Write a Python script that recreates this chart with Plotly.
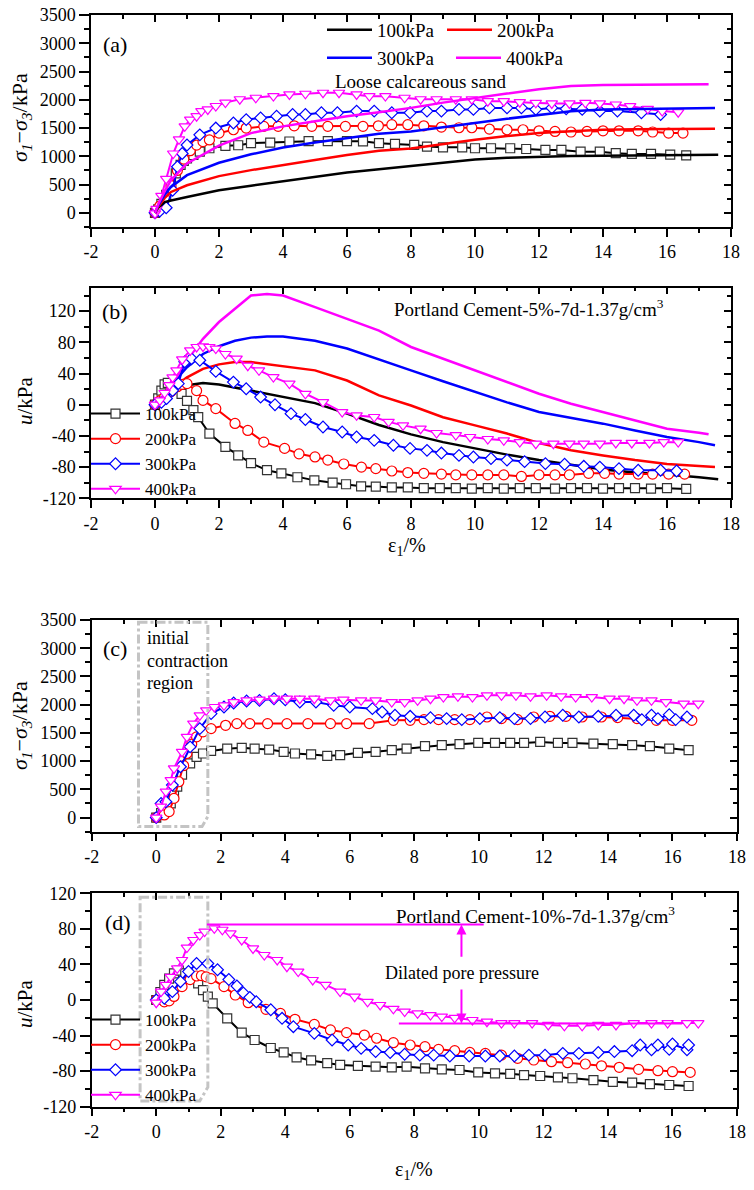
import plotly.graph_objects as go

W, H = 754, 1190
FONT = "Liberation Serif, Times New Roman, serif"

# ---------------- data ----------------
X_TICKS = [-2, 0, 2, 4, 6, 8, 10, 12, 14, 16, 18]
X_TICK_LABELS = ["-2", "0", "2", "4", "6", "8", "10", "12", "14", "16", "18"]
Q_TICKS = [0, 500, 1000, 1500, 2000, 2500, 3000, 3500]
Q_TICK_LABELS = ["0", "500", "1000", "1500", "2000", "2500", "3000", "3500"]
U_TICKS = [-120, -80, -40, 0, 40, 80, 120]
U_TICK_LABELS = ["-120", "-80", "-40", "0", "40", "80", "120"]

PRESSURES = ["100kPa", "200kPa", "300kPa", "400kPa"]

# (a) loose calcareous sand, deviator stress
A_LOOSE_100_X = [0, 0.1, 0.3, 0.5, 1, 2, 3, 4, 5, 6, 7, 8, 9, 10, 11, 12, 13, 14, 15, 16, 17, 17.6]
A_LOOSE_100_Y = [0, 90, 190, 220, 280, 400, 480, 560, 640, 714, 770, 830, 890, 946, 975, 994, 1005, 1012, 1015, 1018, 1025, 1030]
A_LOOSE_200_X = [0, 0.1, 0.3, 0.5, 1, 2, 3, 4, 5, 6, 7, 8, 9, 10, 11, 12, 13, 14, 15, 16, 17, 17.5]
A_LOOSE_200_Y = [0, 110, 260, 370, 488, 650, 756, 851, 934, 1024, 1100, 1140, 1220, 1292, 1360, 1411, 1445, 1470, 1478, 1482, 1486, 1488]
A_LOOSE_300_X = [0, 0.1, 0.3, 0.5, 1, 2, 3, 4, 5, 6, 7, 8, 9, 10, 11, 12, 13, 14, 15, 16, 17, 17.5]
A_LOOSE_300_Y = [0, 130, 320, 458, 667, 887, 1036, 1155, 1244, 1321, 1399, 1440, 1520, 1589, 1665, 1738, 1798, 1827, 1835, 1839, 1850, 1857]
A_LOOSE_400_X = [0, 0.1, 0.3, 0.5, 1, 2, 3, 4, 5, 6, 7, 8, 9, 10, 11, 12, 13, 14, 15, 16, 17, 17.3]
A_LOOSE_400_Y = [0, 150, 380, 577, 875, 1190, 1411, 1530, 1619, 1708, 1780, 1857, 1950, 2036, 2110, 2185, 2244, 2262, 2268, 2274, 2274, 2274]

# (a) Portland cement 5 %, deviator stress
A_C5_100_X = [0, 0.1, 0.2, 0.35, 0.5, 0.65, 0.8, 0.9, 1.0, 1.2, 1.4, 1.7, 2.2, 2.6, 3.0, 3.6, 4.2, 4.8, 5.4, 6.0, 6.5, 7.0, 7.5, 8.1, 8.5, 9.0, 9.6, 10.0, 10.5, 11.1, 11.6, 12.2, 12.7, 13.3, 13.9, 14.4, 14.9, 15.5, 16.1, 16.6]
A_C5_100_Y = [0, 60, 160, 320, 520, 700, 850, 920, 964, 1024, 1083, 1143, 1185, 1196, 1232, 1244, 1262, 1268, 1268, 1268, 1265, 1232, 1220, 1202, 1173, 1160, 1160, 1143, 1143, 1143, 1130, 1113, 1113, 1083, 1083, 1055, 1042, 1042, 1030, 1018]
A_C5_200_X = [0, 0.15, 0.3, 0.5, 0.7, 0.9, 1.1, 1.3, 1.5, 1.7, 2.0, 2.45, 2.85, 3.4, 3.85, 4.35, 4.9, 5.4, 5.95, 6.5, 6.98, 7.4, 7.9, 8.4, 8.95, 9.5, 9.9, 10.45, 11.0, 11.5, 12.0, 12.5, 13.0, 13.5, 14.0, 14.5, 15.1, 15.55, 16.05, 16.5]
A_C5_200_Y = [0, 120, 260, 480, 750, 950, 1100, 1200, 1260, 1290, 1410, 1470, 1500, 1530, 1530, 1540, 1530, 1530, 1530, 1530, 1540, 1560, 1560, 1540, 1518, 1506, 1506, 1482, 1470, 1470, 1452, 1440, 1430, 1440, 1452, 1452, 1452, 1430, 1411, 1411]
A_C5_300_X = [0, 0.15, 0.35, 0.55, 0.7, 0.85, 1.0, 1.4, 1.9, 2.45, 2.85, 3.3, 3.8, 4.3, 4.7, 5.2, 5.7, 6.3, 6.85, 7.4, 7.97, 8.5, 8.95, 9.5, 9.95, 10.45, 11.0, 11.45, 11.9, 12.4, 12.85, 13.35, 13.9, 14.45, 15.2, 15.8]
A_C5_300_Y = [0, 30, 90, 400, 815, 1050, 1200, 1380, 1500, 1590, 1650, 1680, 1710, 1740, 1740, 1770, 1770, 1800, 1800, 1770, 1770, 1800, 1800, 1830, 1830, 1857, 1857, 1857, 1830, 1857, 1840, 1830, 1800, 1800, 1770, 1740]
A_C5_400_X = [0, 0.05, 0.2, 0.35, 0.57, 0.75, 0.93, 1.1, 1.3, 1.45, 1.65, 1.9, 2.2, 2.65, 3.15, 3.7, 4.2, 4.7, 5.25, 5.75, 6.3, 6.7, 7.2, 7.8, 8.3, 8.8, 9.4, 9.9, 10.4, 10.9, 11.4, 11.9, 12.4, 12.95, 13.45, 13.9, 14.4, 14.85, 15.4, 15.85, 16.35]
A_C5_400_Y = [-10, 70, 300, 600, 1050, 1300, 1530, 1650, 1710, 1800, 1830, 1890, 1950, 2010, 2036, 2065, 2095, 2107, 2125, 2125, 2095, 2065, 2065, 2036, 2010, 2010, 2010, 2010, 1976, 1976, 1958, 1946, 1935, 1935, 1946, 1935, 1917, 1887, 1840, 1800, 1780]

# (b) loose calcareous sand, pore pressure
B_LOOSE_100_X = [0, 0.5, 1, 1.5, 2, 2.5, 3, 3.5, 4, 5, 6, 7, 8, 9, 10, 11, 12, 13, 14, 15, 16, 17, 17.6]
B_LOOSE_100_Y = [0, 20, 25, 27.8, 26, 22, 18.4, 14, 9.8, 2, -11.5, -26, -38, -48, -56, -64, -71, -77, -83, -87, -89.5, -93, -95.6]
B_LOOSE_200_X = [0, 0.5, 1, 1.5, 2, 2.5, 3, 3.5, 4, 5, 6, 7, 8, 9, 10, 11, 12, 13, 14, 15, 16, 17, 17.5]
B_LOOSE_200_Y = [0, 20, 35, 46, 51.7, 54.7, 54.7, 52, 49, 44, 31, 12, -1, -16, -26.5, -37, -49, -58.5, -65, -71, -76, -79, -80]
B_LOOSE_300_X = [0, 0.5, 1, 1.5, 2, 2.5, 3, 3.5, 4, 5, 6, 7, 8, 9, 10, 11, 12, 13, 14, 15, 16, 17, 17.5]
B_LOOSE_300_Y = [0, 25, 48, 65, 75, 82, 86, 87.5, 87.5, 82, 72, 57.6, 44, 30, 16, 3, -9.4, -17, -24.3, -33, -41.4, -48, -52]
B_LOOSE_400_X = [0, 0.5, 1, 1.5, 2, 2.5, 3, 3.5, 4, 5, 6, 7, 8, 9, 10, 11, 12, 13, 14, 15, 16, 17, 17.3]
B_LOOSE_400_Y = [0, 24, 57, 84.5, 106, 123, 140, 142, 140, 125, 110, 95, 74, 59, 44, 29, 14, 1.3, -9.4, -20, -30.7, -36, -38]

# (b) Portland cement 5 %, pore pressure
B_C5_100_X = [0, 0.1, 0.2, 0.3, 0.4, 0.6, 0.83, 1.0, 1.2, 1.35, 1.7, 2.2, 2.6, 3.0, 3.5, 3.95, 4.45, 4.98, 5.55, 5.97, 6.44, 6.9, 7.4, 7.9, 8.4, 8.9, 9.4, 9.9, 10.4, 10.9, 11.4, 11.9, 12.5, 13.0, 13.5, 14.0, 14.5, 15.0, 15.5, 16.0, 16.6]
B_C5_100_Y = [0, 8, 18, 26, 28, 22, 14, 5, -7, -16, -37, -54, -65, -75, -84, -88, -93, -97, -100, -102, -104.6, -105, -106, -106, -107, -107, -107, -107.5, -107, -107.5, -107, -107, -107.5, -107, -107, -107.5, -107, -107, -107.5, -107, -108]
B_C5_200_X = [0, 0.15, 0.3, 0.5, 0.7, 0.85, 1.0, 1.3, 1.5, 1.9, 2.5, 2.9, 3.4, 4.05, 4.5, 5.0, 5.4, 5.9, 6.45, 6.9, 7.4, 7.9, 8.4, 8.95, 9.4, 9.9, 10.4, 10.9, 11.45, 12.0, 12.5, 12.95, 13.55, 14.05, 14.5, 15.1, 15.55, 16.05, 16.55]
B_C5_200_Y = [0, 5, 10, 17, 23, 26, 27, 18, 5.5, -5, -24, -33, -48, -56, -63, -67, -71, -76, -80, -82, -85, -87, -88, -89, -90, -90, -90, -90, -92, -90, -90, -90, -88, -88, -89, -89, -89, -89, -89]
B_C5_300_X = [0, 0.2, 0.36, 0.55, 0.73, 0.93, 1.14, 1.4, 1.9, 2.45, 2.85, 3.3, 3.75, 4.25, 4.7, 5.25, 5.85, 6.3, 6.85, 7.45, 7.97, 8.5, 8.95, 9.5, 9.95, 10.5, 11.0, 11.55, 12.2, 12.8, 13.4, 13.9, 14.5, 15.1, 15.8, 16.3]
B_C5_300_Y = [0, 3, 8, 18, 27, 55, 59, 57, 42.7, 29, 20.5, 9.8, 0, -11.5, -19, -28.6, -35, -41.4, -45.7, -52, -56, -58.5, -62, -65, -67, -69, -71, -73, -75.5, -76.4, -79, -80, -82, -84, -84, -85]
B_C5_400_X = [0, 0.15, 0.3, 0.45, 0.55, 0.67, 0.85, 1.1, 1.3, 1.5, 1.7, 1.9, 2.2, 2.55, 2.9, 3.25, 3.7, 4.2, 4.7, 5.25, 5.85, 6.3, 6.85, 7.3, 7.75, 8.3, 8.8, 9.4, 9.85, 10.4, 10.9, 11.4, 11.9, 12.45, 12.95, 13.4, 13.9, 14.4, 14.9, 15.45, 15.9, 16.35]
B_C5_400_Y = [0, 5.5, 15, 25, 35, 44, 58, 69.6, 74, 74.7, 74, 72, 65, 59, 50, 44, 35.4, 27, 14, 3.4, -9.4, -13.7, -15.8, -22, -26.5, -30.7, -36.3, -39, -41.4, -44, -45.7, -48, -50, -50, -50, -50, -50, -49, -49, -49, -48, -48]

# (c) Portland cement 10 %, deviator stress
C_C10_100_X = [0, 0.15, 0.3, 0.45, 0.55, 0.65, 0.8, 1.05, 1.25, 1.45, 1.7, 2.2, 2.65, 3.05, 3.5, 3.95, 4.3, 4.8, 5.3, 5.7, 6.25, 6.8, 7.3, 7.76, 8.33, 8.85, 9.4, 9.98, 10.5, 10.97, 11.4, 11.9, 12.45, 12.9, 13.55, 14.15, 14.75, 15.3, 15.9, 16.5]
C_C10_100_Y = [0, 80, 180, 250, 400, 550, 760, 960, 1076, 1135, 1180, 1220, 1235, 1220, 1205, 1165, 1135, 1118, 1094, 1105, 1147, 1165, 1194, 1223, 1265, 1282, 1300, 1323, 1323, 1323, 1323, 1340, 1323, 1323, 1311, 1300, 1282, 1265, 1223, 1194]
C_C10_200_X = [0, 0.25, 0.4, 0.55, 0.7, 0.85, 0.95, 1.1, 1.25, 1.45, 1.7, 2.15, 2.5, 2.9, 3.45, 4.05, 4.7, 5.4, 5.9, 6.6, 7.35, 7.87, 8.3, 8.75, 9.25, 9.72, 10.25, 10.7, 11.2, 11.7, 12.2, 12.7, 13.2, 13.8, 14.3, 14.9, 15.5, 16.0, 16.6]
C_C10_200_Y = [0, 47, 106, 340, 635, 920, 1135, 1300, 1430, 1518, 1576, 1635, 1665, 1665, 1665, 1665, 1665, 1665, 1665, 1665, 1723, 1723, 1735, 1735, 1735, 1735, 1782, 1753, 1735, 1782, 1794, 1794, 1782, 1782, 1770, 1753, 1723, 1723, 1723]
C_C10_300_X = [0, 0.15, 0.3, 0.5, 0.75, 1.05, 1.35, 1.7, 2.1, 2.4, 2.8, 3.2, 3.65, 4.0, 4.45, 4.95, 5.5, 6.0, 6.7, 7.0, 7.4, 7.87, 8.5, 9.0, 9.47, 10.03, 10.65, 11.1, 11.6, 12.05, 12.6, 13.1, 13.7, 14.25, 14.8, 15.05, 15.35, 15.55, 15.9, 16.1, 16.45]
C_C10_300_Y = [0, 250, 280, 576, 900, 1253, 1576, 1841, 1959, 2030, 2065, 2076, 2106, 2088, 2047, 2047, 1988, 1959, 1930, 1870, 1812, 1794, 1770, 1753, 1735, 1753, 1770, 1753, 1753, 1782, 1812, 1782, 1794, 1812, 1812, 1735, 1812, 1753, 1823, 1735, 1782]
C_C10_400_X = [0, 0.15, 0.3, 0.45, 0.55, 0.8, 0.95, 1.15, 1.35, 1.55, 1.8, 2.1, 2.4, 2.8, 3.2, 3.65, 4.05, 4.45, 4.9, 5.4, 5.8, 6.35, 6.8, 7.3, 7.7, 8.1, 8.5, 8.9, 9.35, 9.8, 10.25, 10.7, 11.15, 11.6, 12.1, 12.55, 13.0, 13.5, 14.05, 14.5, 14.9, 15.35, 15.8, 16.35, 16.8]
C_C10_400_Y = [0, 194, 460, 664, 870, 1165, 1430, 1665, 1812, 1900, 1959, 1988, 2047, 2076, 2088, 2106, 2106, 2106, 2106, 2076, 2088, 2076, 2076, 2047, 2047, 2076, 2106, 2135, 2147, 2135, 2165, 2165, 2165, 2147, 2165, 2147, 2135, 2135, 2106, 2106, 2076, 2076, 2047, 2018, 2018]

# (d) Portland cement 10 %, pore pressure
D_C10_100_X = [0, 0.13, 0.25, 0.4, 0.55, 0.7, 0.9, 1.1, 1.3, 1.45, 1.6, 1.75, 2.2, 2.65, 3.05, 3.55, 3.95, 4.35, 4.8, 5.3, 5.7, 6.25, 6.8, 7.3, 7.76, 8.33, 8.85, 9.4, 9.98, 10.5, 10.97, 11.4, 11.9, 12.45, 12.9, 13.55, 14.15, 14.75, 15.3, 15.9, 16.5]
D_C10_100_Y = [0, 9, 17, 24, 30, 33, 30, 25, 18.7, 11, 3.7, -3.7, -20.6, -36.7, -45, -54, -59, -64.5, -68, -71, -73, -74, -75, -75.7, -75, -77, -78, -78.7, -81.4, -82.5, -83, -84.4, -85.5, -87, -88, -90, -92, -93, -94.5, -95.6, -96.7]
D_C10_200_X = [0, 0.25, 0.4, 0.55, 0.8, 1.05, 1.25, 1.4, 1.55, 1.7, 2.1, 2.45, 2.85, 3.4, 3.85, 4.3, 4.9, 5.4, 5.9, 6.45, 6.83, 7.35, 7.87, 8.33, 8.75, 9.25, 9.72, 10.2, 10.7, 11.2, 11.7, 12.25, 12.75, 13.3, 13.8, 14.35, 14.95, 15.55, 16.0, 16.55]
D_C10_200_Y = [0, -2, -1, 4, 15, 23, 27, 27.4, 26, 24, 15, 5.6, -3, -10.5, -15, -21.7, -27.4, -33.7, -36.7, -39.4, -43, -48, -50.6, -52.5, -55.5, -57, -59, -60, -62, -65.6, -67.5, -69.4, -70.5, -72, -74, -75.7, -78, -79.5, -80.6, -81.4]
D_C10_300_X = [0, 0.25, 0.5, 0.75, 1.0, 1.25, 1.6, 1.9, 2.25, 2.5, 2.7, 2.9, 3.1, 3.55, 3.9, 4.25, 4.9, 5.45, 5.95, 6.35, 6.8, 7.25, 7.7, 8.17, 8.6, 9.1, 9.7, 10.2, 10.65, 11.1, 11.55, 12.05, 12.6, 13.1, 13.7, 14.2, 14.75, 15.0, 15.35, 15.55, 15.9, 16.0, 16.45, 16.5]
D_C10_300_Y = [0, 2, 9.4, 20.6, 32, 41, 41, 34, 23, 15.7, 8, 3, -2, -11, -20.6, -30, -37.5, -45, -50.6, -54.4, -58, -59, -61, -62, -62, -63, -63, -63, -63, -63, -62, -62, -60, -60, -59, -58, -57, -50.6, -56, -50.6, -55.5, -49.5, -56, -50.6]
D_C10_400_X = [0, 0.15, 0.3, 0.45, 0.65, 0.8, 0.95, 1.15, 1.35, 1.5, 1.8, 2.05, 2.3, 2.65, 3.0, 3.35, 3.75, 4.05, 4.4, 4.85, 5.25, 5.7, 6.15, 6.55, 6.94, 7.35, 7.7, 8.1, 8.5, 8.85, 9.25, 9.8, 10.25, 10.7, 11.1, 11.65, 12.15, 12.65, 13.2, 13.7, 14.25, 14.8, 15.35, 15.85, 16.45, 16.8]
D_C10_400_Y = [-3, 9.4, 17, 26, 35.6, 45, 59, 67.5, 73, 77, 80.6, 79, 75, 67.5, 58, 50.6, 45, 37.5, 32, 22.5, 17, 9.4, 3.7, -2, -5.6, -10, -13, -15, -17, -18.7, -20, -22.5, -24.4, -26, -26, -26, -28, -29, -29, -28, -28, -26, -26, -26, -26, -26]

# (d) dilated pore-pressure guide levels
PEAK_U_400 = 85
RESIDUAL_U_400 = -26.3

# ---------------- styling ----------------
COLORS = {"100kPa": "#000000", "200kPa": "#ff0000", "300kPa": "#0000ff", "400kPa": "#ff00ff"}
EDGE = {"100kPa": "#333333", "200kPa": "#ff0000", "300kPa": "#0000ff", "400kPa": "#ff00ff"}
SYMBOLS = {"100kPa": "square", "200kPa": "circle", "300kPa": "diamond", "400kPa": "triangle-down"}
MSIZE = {"100kPa": 9, "200kPa": 10, "300kPa": 9, "400kPa": 10}


def px(x):
    return x / W


def py(y):
    return 1 - y / H


fig = go.Figure()

# panel geometry in pixels: (x0, x1, ytop, ybottom)
PANELS = [
    dict(x="x", y="y", ox="x5", oy="y5", box=(91, 731, 15, 227), yr=[-250, 3500], kind="q"),
    dict(x="x2", y="y2", ox="x6", oy="y6", box=(91, 731, 287.7, 498.3), yr=[-120, 150], kind="u"),
    dict(x="x3", y="y3", ox="x7", oy="y7", box=(91.7, 737, 620, 831.7), yr=[-250, 3500], kind="q"),
    dict(x="x4", y="y4", ox="x8", oy="y8", box=(91.7, 737, 893.3, 1106.7), yr=[-120, 120], kind="u"),
]


def axname(a):
    return ("xaxis" if a[0] == "x" else "yaxis") + a[1:]


tickfont = dict(family=FONT, size=18, color="black")
layout_axes = {}
for p in PANELS:
    x0, x1, yt, yb = p["box"]
    xminor = [v for v in range(-2, 19)]
    if p["kind"] == "q":
        yt_vals, yt_text = Q_TICKS, Q_TICK_LABELS
        yminor = list(range(-250, 3501, 250))
    else:
        yt_vals, yt_text = U_TICKS, U_TICK_LABELS
        yminor = list(range(-120, int(p["yr"][1]) + 1, 20))
    common = dict(range=[-2, 18], showgrid=False, zeroline=False, showline=True,
                  linecolor="black", linewidth=1.5, tickwidth=1.5, tickcolor="black")
    layout_axes[axname(p["x"])] = dict(
        common, domain=[px(x0), px(x1)], anchor=p["y"], side="bottom",
        tickmode="array", tickvals=X_TICKS, ticktext=X_TICK_LABELS, ticks="outside", ticklen=8,
        tickfont=tickfont,
        minor=dict(tickmode="array", tickvals=xminor, ticks="outside", ticklen=4, tickwidth=1.5, tickcolor="black"))
    layout_axes[axname(p["ox"])] = dict(
        common, overlaying=p["x"], anchor=p["y"], side="top",
        tickmode="array", tickvals=X_TICKS, ticks="inside", ticklen=7, showticklabels=False,
        minor=dict(tickmode="array", tickvals=xminor, ticks="inside", ticklen=4, tickwidth=1.5, tickcolor="black"))
    ycommon = dict(common, range=p["yr"])
    layout_axes[axname(p["y"])] = dict(
        ycommon, domain=[py(yb), py(yt)], anchor=p["x"], side="left",
        tickmode="array", tickvals=yt_vals, ticktext=yt_text, ticks="outside", ticklen=10,
        tickfont=tickfont,
        minor=dict(tickmode="array", tickvals=yminor, ticks="outside", ticklen=5, tickwidth=1.5, tickcolor="black"))
    layout_axes[axname(p["oy"])] = dict(
        ycommon, overlaying=p["y"], anchor=p["x"], side="right",
        tickmode="array", tickvals=yt_vals, ticks="inside", ticklen=7, showticklabels=False,
        minor=dict(tickmode="array", tickvals=yminor, ticks="inside", ticklen=4, tickwidth=1.5, tickcolor="black"))
    # dummy trace so the mirror axes are drawn
    fig.add_trace(go.Scatter(x=[None], y=[None], xaxis=p["ox"], yaxis=p["oy"], showlegend=False, hoverinfo="skip"))


def add_line(xs, ys, name, pan, legend, show):
    fig.add_trace(go.Scatter(
        x=xs, y=ys, mode="lines", name=name, xaxis=pan["x"], yaxis=pan["y"],
        line=dict(color=COLORS[name], width=2.5), legend=legend, showlegend=show))


def add_marked(xs, ys, name, pan, legend, show):
    fig.add_trace(go.Scatter(
        x=xs, y=ys, mode="lines+markers", name=name, xaxis=pan["x"], yaxis=pan["y"],
        line=dict(color=COLORS[name], width=2),
        marker=dict(symbol=SYMBOLS[name], size=MSIZE[name], color="white",
                    line=dict(color=EDGE[name], width=1.2)),
        legend=legend, showlegend=show))


A_LOOSE = [(A_LOOSE_100_X, A_LOOSE_100_Y), (A_LOOSE_200_X, A_LOOSE_200_Y),
           (A_LOOSE_300_X, A_LOOSE_300_Y), (A_LOOSE_400_X, A_LOOSE_400_Y)]
A_C5 = [(A_C5_100_X, A_C5_100_Y), (A_C5_200_X, A_C5_200_Y), (A_C5_300_X, A_C5_300_Y), (A_C5_400_X, A_C5_400_Y)]
B_LOOSE = [(B_LOOSE_100_X, B_LOOSE_100_Y), (B_LOOSE_200_X, B_LOOSE_200_Y),
           (B_LOOSE_300_X, B_LOOSE_300_Y), (B_LOOSE_400_X, B_LOOSE_400_Y)]
B_C5 = [(B_C5_100_X, B_C5_100_Y), (B_C5_200_X, B_C5_200_Y), (B_C5_300_X, B_C5_300_Y), (B_C5_400_X, B_C5_400_Y)]
C_C10 = [(C_C10_100_X, C_C10_100_Y), (C_C10_200_X, C_C10_200_Y), (C_C10_300_X, C_C10_300_Y), (C_C10_400_X, C_C10_400_Y)]
D_C10 = [(D_C10_100_X, D_C10_100_Y), (D_C10_200_X, D_C10_200_Y), (D_C10_300_X, D_C10_300_Y), (D_C10_400_X, D_C10_400_Y)]

for i, name in enumerate(PRESSURES):
    add_marked(*A_C5[i], name, PANELS[0], "legend", False)
for i, name in enumerate(PRESSURES):
    leg = "legend" if i < 2 else "legend4"
    add_line(*A_LOOSE[i], name, PANELS[0], leg, True)
for i, name in enumerate(PRESSURES):
    add_line(*B_LOOSE[i], name, PANELS[1], "legend", False)
for i, name in enumerate(PRESSURES):
    add_marked(*B_C5[i], name, PANELS[1], "legend2", True)
for i, name in enumerate(PRESSURES):
    add_marked(*C_C10[i], name, PANELS[2], "legend", False)
for i, name in enumerate(PRESSURES):
    add_marked(*D_C10[i], name, PANELS[3], "legend3", True)

legfont = dict(family=FONT, size=19, color="black")
legfont_v = dict(family=FONT, size=17, color="black")
legend_common = dict(bgcolor="rgba(0,0,0,0)", borderwidth=0, xanchor="left", yanchor="top",
                     itemclick=False, itemdoubleclick=False)

shapes = [
    # initial contraction regions
    dict(type="path", xref="x3", yref="y3", path="M -0.55,3460 L 1.6,3460 L 1.6,20 L 1.42,-160 L -0.55,-160 Z",
         line=dict(color="#c4c4c4", width=3, dash="dashdot")),
    dict(type="path", xref="x4", yref="y4", path="M -0.5,115.5 L 1.6,115.5 L 1.6,-98 L 1.35,-113.5 L -0.5,-113.5 Z",
         line=dict(color="#c4c4c4", width=3, dash="dashdot")),
    # dilated pore pressure levels
    dict(type="line", xref="x4", yref="y4", x0=1.57, x1=10.15, y0=PEAK_U_400, y1=PEAK_U_400,
         line=dict(color="#ff00ff", width=2)),
    dict(type="line", xref="x4", yref="y4", x0=7.52, x1=16.3, y0=RESIDUAL_U_400, y1=RESIDUAL_U_400,
         line=dict(color="#ff00ff", width=2)),
]

ann = []


def text(x, y, s, size=19, xanchor="center", angle=0):
    ann.append(dict(x=px(x), y=py(y), xref="paper", yref="paper", text=s, showarrow=False,
                    xanchor=xanchor, yanchor="middle", textangle=angle,
                    font=dict(family=FONT, size=size, color="black")))


text(115, 45, "(a)", 22)
text(115, 312, "(b)", 22)
text(115, 649, "(c)", 22)
text(118, 922, "(d)", 22)
text(420, 82, "Loose calcareous sand", 19)
text(392, 308, "Portland Cement-5%-7d-1.37g/cm<sup>3</sup>", 19, "left")
text(394, 915, "Portland Cement-10%-7d-1.37g/cm<sup>3</sup>", 19, "left")
text(462, 973, "Dilated pore pressure", 18)
text(145, 638, "initial", 18, "left")
text(145, 661, "contraction", 18, "left")
text(145, 683, "region", 18, "left")
QT = "<i>σ</i><sub><i>1</i></sub>−<i>σ</i><sub><i>3</i></sub>/kPa"
UT = "<i>u</i>/kPa"
text(21, 118, QT, 22, angle=-90)
text(25, 401, UT, 21, angle=-90)
text(21, 726, QT, 22, angle=-90)
text(25, 1004, UT, 21, angle=-90)
text(407, 547, "ε<sub>1</sub>/%", 20)
text(414, 1170, "ε<sub>1</sub>/%", 20)

for head, tail in [(PEAK_U_400, 47), (RESIDUAL_U_400, 13.5)]:
    ann.append(dict(x=9.46, y=head, ax=9.46, ay=tail, xref="x4", yref="y4", axref="x4", ayref="y4",
                    text="", showarrow=True, arrowhead=2, arrowsize=1, arrowwidth=2, arrowcolor="#ff00ff"))

fig.update_layout(
    width=W, height=H, margin=dict(l=0, r=0, t=0, b=0),
    template="none", paper_bgcolor="white", plot_bgcolor="rgba(0,0,0,0)",
    font=dict(family=FONT, size=18, color="black"),
    shapes=shapes, annotations=ann,
    legend=dict(legend_common, font=legfont, orientation="h", x=px(322), y=py(11), itemwidth=45, entrywidth=60),
    legend4=dict(legend_common, font=legfont, orientation="h", x=px(322), y=py(39), itemwidth=45, entrywidth=69),
    legend2=dict(legend_common, font=legfont_v, orientation="v", x=px(86), y=py(396), itemwidth=49),
    legend3=dict(legend_common, font=legfont_v, orientation="v", x=px(86), y=py(1002), itemwidth=49),
    **layout_axes,
)

fig.write_html("out.html")
